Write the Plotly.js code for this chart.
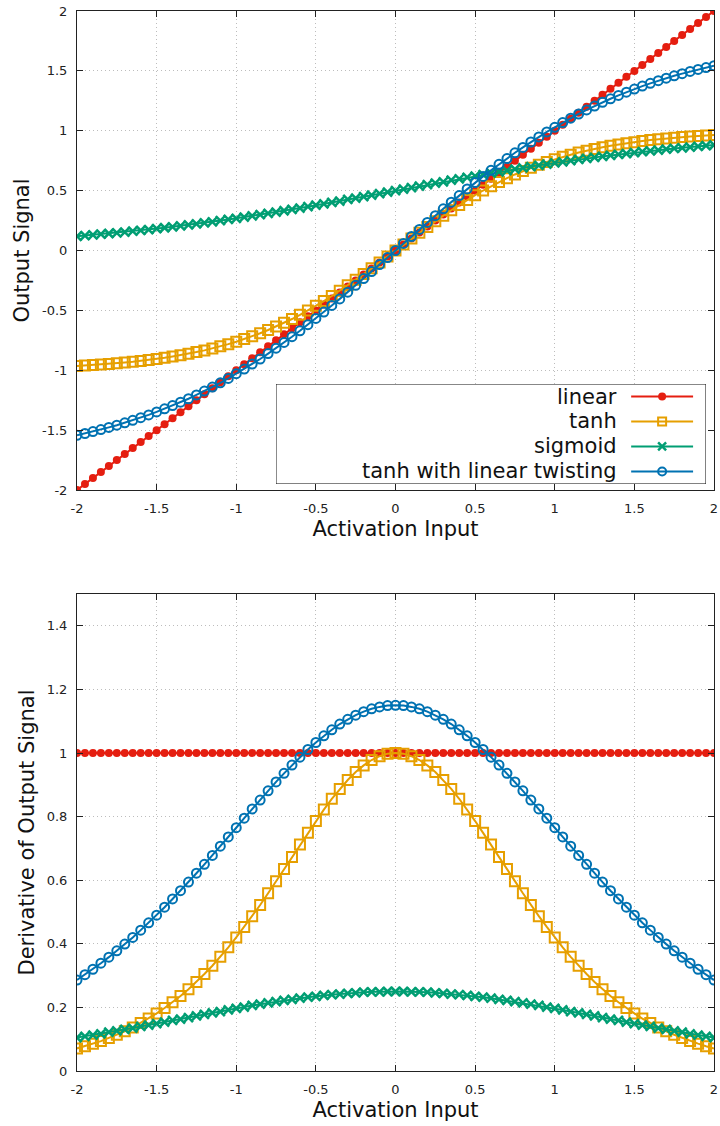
<!DOCTYPE html>
<html>
<head>
<meta charset="utf-8">
<script src="https://cdn.plot.ly/plotly-3.0.1.min.js"></script>
<style>
  html, body { margin: 0; padding: 0; background: #ffffff; }
  #chart { width: 720px; height: 1126px; }
</style>
</head>
<body>
<div id="chart"></div>
<script>
// Sample points of the activation input
const xs = [-2,-1.95,-1.9,-1.85,-1.8,-1.75,-1.7,-1.65,-1.6,-1.55,-1.5,-1.45,-1.4,-1.35,-1.3,-1.25,-1.2,-1.15,-1.1,-1.05,-1,-0.95,-0.9,-0.85,-0.8,-0.75,-0.7,-0.65,-0.6,-0.55,-0.5,-0.45,-0.4,-0.35,-0.3,-0.25,-0.2,-0.15,-0.1,-0.05,0,0.05,0.1,0.15,0.2,0.25,0.3,0.35,0.4,0.45,0.5,0.55,0.6,0.65,0.7,0.75,0.8,0.85,0.9,0.95,1,1.05,1.1,1.15,1.2,1.25,1.3,1.35,1.4,1.45,1.5,1.55,1.6,1.65,1.7,1.75,1.8,1.85,1.9,1.95,2];

// Output signal of each activation
const linearOut = [-2,-1.95,-1.9,-1.85,-1.8,-1.75,-1.7,-1.65,-1.6,-1.55,-1.5,-1.45,-1.4,-1.35,-1.3,-1.25,-1.2,-1.15,-1.1,-1.05,-1,-0.95,-0.9,-0.85,-0.8,-0.75,-0.7,-0.65,-0.6,-0.55,-0.5,-0.45,-0.4,-0.35,-0.3,-0.25,-0.2,-0.15,-0.1,-0.05,0,0.05,0.1,0.15,0.2,0.25,0.3,0.35,0.4,0.45,0.5,0.55,0.6,0.65,0.7,0.75,0.8,0.85,0.9,0.95,1,1.05,1.1,1.15,1.2,1.25,1.3,1.35,1.4,1.45,1.5,1.55,1.6,1.65,1.7,1.75,1.8,1.85,1.9,1.95,2];
const tanhOut = [-0.964,-0.960,-0.956,-0.952,-0.947,-0.941,-0.935,-0.929,-0.922,-0.914,-0.905,-0.896,-0.885,-0.874,-0.862,-0.848,-0.834,-0.818,-0.800,-0.782,-0.762,-0.740,-0.716,-0.691,-0.664,-0.635,-0.604,-0.572,-0.537,-0.501,-0.462,-0.422,-0.380,-0.336,-0.291,-0.245,-0.197,-0.149,-0.100,-0.050,0,0.050,0.100,0.149,0.197,0.245,0.291,0.336,0.380,0.422,0.462,0.501,0.537,0.572,0.604,0.635,0.664,0.691,0.716,0.740,0.762,0.782,0.800,0.818,0.834,0.848,0.862,0.874,0.885,0.896,0.905,0.914,0.922,0.929,0.935,0.941,0.947,0.952,0.956,0.960,0.964];
const sigmoidOut = [0.119,0.125,0.130,0.136,0.142,0.148,0.154,0.161,0.168,0.175,0.182,0.190,0.198,0.206,0.214,0.223,0.231,0.240,0.250,0.259,0.269,0.279,0.289,0.299,0.310,0.321,0.332,0.343,0.354,0.366,0.378,0.389,0.401,0.413,0.426,0.438,0.450,0.463,0.475,0.488,0.500,0.512,0.525,0.537,0.550,0.562,0.574,0.587,0.599,0.611,0.622,0.634,0.646,0.657,0.668,0.679,0.690,0.701,0.711,0.721,0.731,0.741,0.750,0.760,0.769,0.777,0.786,0.794,0.802,0.810,0.818,0.825,0.832,0.839,0.846,0.852,0.858,0.864,0.870,0.875,0.881];
const twistOut = [-1.543,-1.528,-1.512,-1.495,-1.477,-1.459,-1.439,-1.418,-1.396,-1.373,-1.348,-1.322,-1.295,-1.267,-1.238,-1.206,-1.174,-1.140,-1.105,-1.068,-1.029,-0.990,-0.948,-0.906,-0.861,-0.816,-0.768,-0.720,-0.670,-0.619,-0.567,-0.514,-0.459,-0.404,-0.348,-0.291,-0.234,-0.176,-0.117,-0.059,0,0.059,0.117,0.176,0.234,0.291,0.348,0.404,0.459,0.514,0.567,0.619,0.670,0.720,0.768,0.816,0.861,0.906,0.948,0.990,1.029,1.068,1.105,1.140,1.174,1.206,1.238,1.267,1.295,1.322,1.348,1.373,1.396,1.418,1.439,1.459,1.477,1.495,1.512,1.528,1.543];

// Derivative of the output signal
const linearDeriv = [1,1,1,1,1,1,1,1,1,1,1,1,1,1,1,1,1,1,1,1,1,1,1,1,1,1,1,1,1,1,1,1,1,1,1,1,1,1,1,1,1,1,1,1,1,1,1,1,1,1,1,1,1,1,1,1,1,1,1,1,1,1,1,1,1,1,1,1,1,1,1,1,1,1,1,1,1,1,1,1,1];
const tanhDeriv = [0.071,0.078,0.086,0.094,0.104,0.114,0.125,0.137,0.151,0.165,0.181,0.198,0.216,0.236,0.257,0.280,0.305,0.331,0.359,0.389,0.420,0.453,0.487,0.522,0.559,0.597,0.635,0.673,0.712,0.749,0.786,0.822,0.856,0.887,0.915,0.940,0.961,0.978,0.990,0.998,1.000,0.998,0.990,0.978,0.961,0.940,0.915,0.887,0.856,0.822,0.786,0.749,0.712,0.673,0.635,0.597,0.559,0.522,0.487,0.453,0.420,0.389,0.359,0.331,0.305,0.280,0.257,0.236,0.216,0.198,0.181,0.165,0.151,0.137,0.125,0.114,0.104,0.094,0.086,0.078,0.071];
const sigmoidDeriv = [0.105,0.109,0.113,0.117,0.122,0.126,0.131,0.135,0.140,0.144,0.149,0.154,0.159,0.163,0.168,0.173,0.178,0.183,0.187,0.192,0.197,0.201,0.206,0.210,0.214,0.218,0.222,0.225,0.229,0.232,0.235,0.238,0.240,0.242,0.244,0.246,0.248,0.249,0.249,0.250,0.250,0.250,0.249,0.249,0.248,0.246,0.244,0.242,0.240,0.238,0.235,0.232,0.229,0.225,0.222,0.218,0.214,0.210,0.206,0.201,0.197,0.192,0.187,0.183,0.178,0.173,0.168,0.163,0.159,0.154,0.149,0.144,0.140,0.135,0.131,0.126,0.122,0.117,0.113,0.109,0.105];
const twistDeriv = [0.286,0.303,0.320,0.339,0.358,0.378,0.399,0.420,0.443,0.466,0.490,0.515,0.541,0.567,0.594,0.622,0.650,0.678,0.707,0.736,0.765,0.795,0.824,0.852,0.881,0.909,0.936,0.962,0.987,1.011,1.033,1.054,1.073,1.091,1.106,1.119,1.130,1.139,1.145,1.149,1.150,1.149,1.145,1.139,1.130,1.119,1.106,1.091,1.073,1.054,1.033,1.011,0.987,0.962,0.936,0.909,0.881,0.852,0.824,0.795,0.765,0.736,0.707,0.678,0.650,0.622,0.594,0.567,0.541,0.515,0.490,0.466,0.443,0.420,0.399,0.378,0.358,0.339,0.320,0.303,0.286];

// Series names and tick labels
const seriesNames = ['linear', 'tanh', 'sigmoid', 'tanh with linear twisting'];
const xTickVals = [-2, -1.5, -1, -0.5, 0, 0.5, 1, 1.5, 2];
const xTickText = ['-2', '-1.5', '-1', '-0.5', '0', '0.5', '1', '1.5', '2'];
const yTopTickVals = [-2, -1.5, -1, -0.5, 0, 0.5, 1, 1.5, 2];
const yTopTickText = ['-2', '-1.5', '-1', '-0.5', '0', '0.5', '1', '1.5', '2'];
const yBotTickVals = [0, 0.2, 0.4, 0.6, 0.8, 1, 1.2, 1.4];
const yBotTickText = ['0', '0.2', '0.4', '0.6', '0.8', '1', '1.2', '1.4'];

// Line and marker style per series
const styles = [
  { color: '#e51e10', symbol: 'circle',      size: 8,  lw: 0 },
  { color: '#e69f00', symbol: 'square-open', size: 10, lw: 2 },
  { color: '#009e73', symbol: 'x-thin-open', size: 9,  lw: 2.5 },
  { color: '#0072b2', symbol: 'circle-open', size: 9,  lw: 2 }
];

function curve(x, y, s, xa, ya) {
  return {
    type: 'scatter', mode: 'lines+markers', x: x, y: y,
    xaxis: xa, yaxis: ya, showlegend: false, hoverinfo: 'skip',
    line: { color: s.color, width: 2 },
    marker: { color: s.color, symbol: s.symbol, size: s.size,
              line: { color: s.color, width: s.lw } }
  };
}

const outSeries = [linearOut, tanhOut, sigmoidOut, twistOut];
const derivSeries = [linearDeriv, tanhDeriv, sigmoidDeriv, twistDeriv];

const traces = [];
outSeries.forEach((y, i) => traces.push(curve(xs, y, styles[i], 'x', 'y')));
derivSeries.forEach((y, i) => traces.push(curve(xs, y, styles[i], 'x2', 'y2')));

// Key samples, drawn on a small hidden axis pair inside the key box
const keyRows = [3.5, 2.5, 1.5, 0.5];
const keyAnn = [];
seriesNames.forEach((name, i) => {
  const s = styles[i];
  traces.push({
    type: 'scatter', mode: 'lines+markers',
    x: [0.826, 0.898, 0.970], y: [keyRows[i], keyRows[i], keyRows[i]],
    xaxis: 'x3', yaxis: 'y3', showlegend: false, hoverinfo: 'skip',
    line: { color: s.color, width: 2 },
    marker: { color: s.color, symbol: s.symbol, size: Math.min(s.size, 8), opacity: [0, 1, 0],
              line: { color: s.color, width: s.lw } }
  });
  keyAnn.push({
    xref: 'x3', yref: 'y3', x: 0.797, y: keyRows[i],
    xanchor: 'right', yanchor: 'middle', showarrow: false,
    text: name, font: { family: 'DejaVu Sans', size: 21, color: '#111111' }
  });
});

const tickFont = { family: 'DejaVu Sans', size: 13, color: '#222222' };
const titleFont = { family: 'DejaVu Sans', size: 21, color: '#111111' };

function axisBase(extra) {
  return Object.assign({
    showline: true, linecolor: '#222222', linewidth: 1, mirror: 'allticks',
    ticks: 'inside', ticklen: 6, tickwidth: 1, tickcolor: '#222222',
    showgrid: true, gridcolor: '#bdbdbd', gridwidth: 1, griddash: '1px,3px',
    zeroline: false, tickfont: tickFont, tickmode: 'array',
    ticklabelstandoff: 6, fixedrange: true
  }, extra);
}

const topDom = [0.5481, 1];
const botDom = [0, 0.45];

const layout = {
  width: 720, height: 1126,
  margin: { l: 77, r: 6, t: 11, b: 55 },
  paper_bgcolor: '#ffffff', plot_bgcolor: '#ffffff',
  font: { family: 'DejaVu Sans' },
  xaxis: axisBase({ domain: [0, 1], anchor: 'y', range: [-2, 2],
    tickvals: xTickVals, ticktext: xTickText,
    title: { text: 'Activation Input', font: titleFont, standoff: 6 } }),
  yaxis: axisBase({ domain: topDom, anchor: 'x', range: [-2, 2],
    tickvals: yTopTickVals, ticktext: yTopTickText,
    title: { text: 'Output Signal', font: titleFont, standoff: 6 } }),
  xaxis2: axisBase({ domain: [0, 1], anchor: 'y2', range: [-2, 2],
    tickvals: xTickVals, ticktext: xTickText,
    title: { text: 'Activation Input', font: titleFont, standoff: 6 } }),
  yaxis2: axisBase({ domain: botDom, anchor: 'x2', range: [0, 1.5],
    tickvals: yBotTickVals, ticktext: yBotTickText,
    title: { text: 'Derivative of Output Signal', font: titleFont, standoff: 6 } }),
  xaxis3: { domain: [0.3124, 0.9874], anchor: 'y3', range: [0, 1], visible: false, fixedrange: true },
  yaxis3: { domain: [0.5538, 0.6481], anchor: 'x3', range: [0, 4], visible: false, fixedrange: true },
  shapes: [{
    type: 'rect', xref: 'x3', yref: 'y3', x0: 0, x1: 1, y0: 0, y1: 4,
    line: { color: '#111111', width: 1 }, fillcolor: '#ffffff', layer: 'below'
  }],
  annotations: keyAnn,
  showlegend: false
};

Plotly.newPlot('chart', traces, layout, { staticPlot: true, displayModeBar: false });
</script>
</body>
</html>
